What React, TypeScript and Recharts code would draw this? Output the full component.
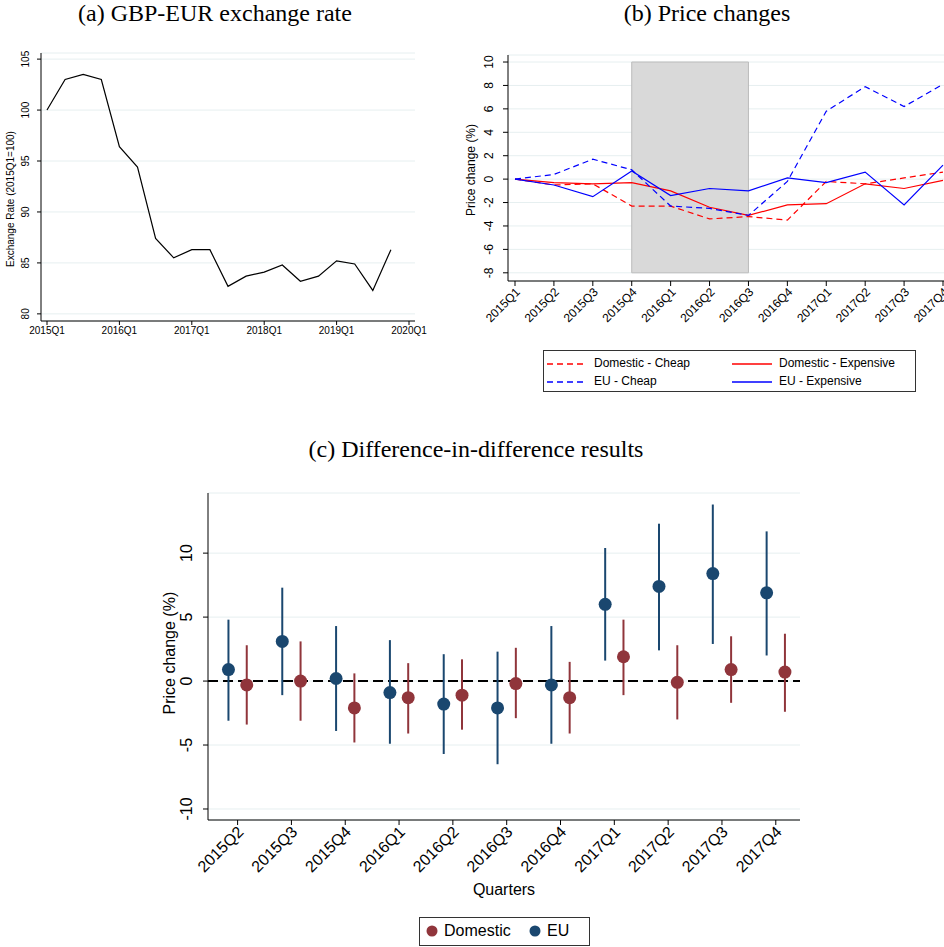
import React from 'react';
import {
  LineChart, Line, XAxis, YAxis, CartesianGrid, ReferenceArea, ReferenceLine,
  ComposedChart, Scatter, ErrorBar,
} from 'recharts';

// (a) exchange rate, quarterly from 2015Q1
const fxValues = [100, 103, 103.5, 103, 96.4, 94.4, 87.4, 85.5, 86.3, 86.3, 82.7, 83.7, 84.1, 84.8, 83.2, 83.7, 85.2, 84.9, 82.3, 86.3];
const fxYearTicks = ['2015Q1', '2016Q1', '2017Q1', '2018Q1', '2019Q1', '2020Q1'];

// (b) price changes
const quarters = ['2015Q1', '2015Q2', '2015Q3', '2015Q4', '2016Q1', '2016Q2', '2016Q3', '2016Q4', '2017Q1', '2017Q2', '2017Q3', '2017Q4'];
const domCheap = [0, -0.5, -0.4, -2.3, -2.3, -3.4, -3.2, -3.5, -0.2, -0.4, 0.1, 0.6];
const domExp = [0, -0.3, -0.4, -0.3, -1.0, -2.4, -3.1, -2.2, -2.1, -0.4, -0.8, -0.1];
const euCheap = [0, 0.4, 1.7, 0.8, -2.3, -2.5, -3.1, -0.2, 5.8, 7.9, 6.2, 8.1];
const euExp = [0, -0.5, -1.5, 0.7, -1.4, -0.8, -1.0, 0.1, -0.3, 0.6, -2.2, 1.2];

// (c) diff-in-diff estimates
const didQuarters = quarters.slice(1);
const euEst = [0.9, 3.1, 0.2, -0.9, -1.8, -2.1, -0.3, 6.0, 7.4, 8.4, 6.9];
const euLo = [-3.1, -1.1, -3.9, -4.9, -5.7, -6.5, -4.9, 1.6, 2.4, 2.9, 2.0];
const euHi = [4.8, 7.3, 4.3, 3.2, 2.1, 2.3, 4.3, 10.4, 12.3, 13.8, 11.7];
const domEst = [-0.3, 0.0, -2.1, -1.3, -1.1, -0.2, -1.3, 1.9, -0.1, 0.9, 0.7];
const domLo = [-3.4, -3.1, -4.8, -4.1, -3.8, -2.9, -4.1, -1.1, -3.0, -1.7, -2.4];
const domHi = [2.8, 3.1, 0.6, 1.4, 1.7, 2.6, 1.5, 4.8, 2.8, 3.5, 3.7];

const fxData = fxValues.map((v, i) => ({ q: i, v }));
const priceData = quarters.map((_, i) => ({
  q: i, dc: domCheap[i], de: domExp[i], ec: euCheap[i], ee: euExp[i],
}));
const euData = euEst.map((v, i) => ({ x: i - 0.17, y: v, err: [v - euLo[i], euHi[i] - v] }));
const domData = domEst.map((v, i) => ({ x: i + 0.17, y: v, err: [v - domLo[i], domHi[i] - v] }));

const SANS = 'Liberation Sans, Arial, sans-serif';
const SERIF = 'Liberation Serif, DejaVu Serif, serif';
const GRID = '#e6eff0';
const RED = '#90353b';
const BLUE = '#1a476f';

const YTick = (fs: number, off: number) => (p: any) => (
  <text transform={`translate(${p.x - off},${p.y}) rotate(-90)`} textAnchor="middle"
    fontSize={fs} fontFamily={SANS} fill="#000">{p.payload.value}</text>
);
const XRotTick = (fs: number, labels: string[]) => (p: any) => (
  <text transform={`translate(${p.x + 3},${p.y + 2}) rotate(-45)`} textAnchor="end"
    dominantBaseline="central" fontSize={fs} fontFamily={SANS} fill="#000">
    {labels[Math.round(p.payload.value)]}
  </text>
);
const Dot = (color: string) => (p: any) => <circle cx={p.cx} cy={p.cy} r={6.5} fill={color} />;

const title = (text: string, left: number, top: number, width: number) => (
  <div style={{ position: 'absolute', left, top, width, textAlign: 'center', fontFamily: SERIF, fontSize: 24 }}>{text}</div>
);

const LegLine = ({ color, dash }: { color: string; dash?: boolean }) => (
  <svg width={40} height={6} style={{ verticalAlign: 'middle', marginRight: 7 }}>
    <line x1={0} y1={3} x2={40} y2={3} stroke={color} strokeWidth={1.3} strokeDasharray={dash ? '6 4' : undefined} />
  </svg>
);

export default function App() {
  return (
    <div style={{ position: 'absolute', left: 0, top: 0, width: 944, height: 947, background: '#fff', overflow: 'hidden' }}>
      {title('(a) GBP-EUR exchange rate', 0, 0, 430)}
      {title('(b) Price changes', 470, 0, 474)}
      {title('(c) Difference-in-difference results', 150, 436, 652)}

      {/* panel a */}
      <div style={{ position: 'absolute', left: 0, top: 40 }}>
        <LineChart width={440} height={300} data={fxData} margin={{ top: 13, right: 25, bottom: 0, left: 0 }}>
          <CartesianGrid horizontal vertical={false} stroke={GRID} />
          <XAxis dataKey="q" type="number" domain={[0, 20]} ticks={[0, 4, 8, 12, 16, 20]} height={19}
            padding={{ left: 6, right: 6 }} tickSize={4} stroke="#000" interval={0}
            tick={{ fontSize: 10, fontFamily: SANS, fill: '#000' }} tickFormatter={(v) => fxYearTicks[v / 4]} />
          <YAxis type="number" domain={[79.3, 105.6]} ticks={[80, 85, 90, 95, 100, 105]} width={41}
            tickSize={4} stroke="#000" tick={YTick(10, 6)}
            label={{ value: 'Exchange Rate (2015Q1=100)', angle: -90, position: 'insideLeft', dx: 5, dy: 80, style: { fontSize: 10, fontFamily: SANS, fill: '#000' } }} />
          <Line dataKey="v" stroke="#000" strokeWidth={1.2} dot={false} isAnimationActive={false} />
        </LineChart>
      </div>

      {/* panel b */}
      <div style={{ position: 'absolute', left: 460, top: 40 }}>
        <LineChart width={484} height={300} data={priceData} margin={{ top: 15, right: 0, bottom: 0, left: 0 }}>
          <CartesianGrid horizontal vertical={false} stroke={GRID} />
          <XAxis dataKey="q" type="number" domain={[0, 11]} ticks={quarters.map((_, i) => i)} height={59}
            padding={{ left: 7, right: 1 }} tickSize={5} stroke="#000" interval={0} tick={XRotTick(12, quarters)} />
          <YAxis type="number" domain={[-8.7, 10.6]} ticks={[-8, -6, -4, -2, 0, 2, 4, 6, 8, 10]} width={48}
            tickSize={5} stroke="#000" tick={YTick(12, 8)}
            label={{ value: 'Price change (%)', angle: -90, position: 'insideLeft', dx: 6, dy: 48, style: { fontSize: 12, fontFamily: SANS, fill: '#000' } }} />
          <ReferenceArea x1={3} x2={6} y1={-8} y2={10} fill="#d9d9d9" fillOpacity={1} stroke="#bcbcbc" />
          <Line dataKey="dc" stroke="#ff0000" strokeDasharray="6 4" strokeWidth={1.2} dot={false} isAnimationActive={false} />
          <Line dataKey="de" stroke="#ff0000" strokeWidth={1.2} dot={false} isAnimationActive={false} />
          <Line dataKey="ec" stroke="#0000ff" strokeDasharray="6 4" strokeWidth={1.2} dot={false} isAnimationActive={false} />
          <Line dataKey="ee" stroke="#0000ff" strokeWidth={1.2} dot={false} isAnimationActive={false} />
        </LineChart>
      </div>
      <div style={{ position: 'absolute', left: 543, top: 350, width: 373, height: 42, border: '1px solid #333', fontFamily: SANS, fontSize: 12, lineHeight: '18px', boxSizing: 'border-box' }}>
        <div style={{ position: 'absolute', left: 3, top: 3 }}><LegLine color="#ff0000" dash />Domestic - Cheap</div>
        <div style={{ position: 'absolute', left: 188, top: 3 }}><LegLine color="#ff0000" />Domestic - Expensive</div>
        <div style={{ position: 'absolute', left: 3, top: 21 }}><LegLine color="#0000ff" dash />EU - Cheap</div>
        <div style={{ position: 'absolute', left: 188, top: 21 }}><LegLine color="#0000ff" />EU - Expensive</div>
      </div>

      {/* panel c */}
      <div style={{ position: 'absolute', left: 150, top: 470 }}>
        <ComposedChart width={650} height={432} margin={{ top: 23, right: 0, bottom: 0, left: 0 }}>
          <CartesianGrid horizontal vertical={false} stroke={GRID} />
          <XAxis dataKey="x" type="number" domain={[-0.55, 10.45]} ticks={didQuarters.map((_, i) => i)} height={82}
            tickSize={5} stroke="#000" interval={0} tick={XRotTick(16, didQuarters)} allowDataOverflow
            label={{ value: 'Quarters', position: 'insideBottom', dy: -2, style: { fontSize: 16, fontFamily: SANS, fill: '#000' } }} />
          <YAxis dataKey="y" type="number" domain={[-10.86, 14.7]} ticks={[-10, -5, 0, 5, 10]} width={58}
            tickSize={5} stroke="#000" tick={YTick(16, 9)} allowDataOverflow
            label={{ value: 'Price change (%)', angle: -90, position: 'insideLeft', dx: 14, dy: 58, style: { fontSize: 16, fontFamily: SANS, fill: '#000' } }} />
          <ReferenceLine y={0} stroke="#000" strokeWidth={2} strokeDasharray="10 5" />
          <Scatter data={euData} fill={BLUE} shape={Dot(BLUE)} isAnimationActive={false}>
            <ErrorBar dataKey="err" direction="y" width={0} stroke={BLUE} strokeWidth={2} />
          </Scatter>
          <Scatter data={domData} fill={RED} shape={Dot(RED)} isAnimationActive={false}>
            <ErrorBar dataKey="err" direction="y" width={0} stroke={RED} strokeWidth={2} />
          </Scatter>
        </ComposedChart>
      </div>
      <div style={{ position: 'absolute', left: 419, top: 917, width: 171, height: 29, border: '1px solid #333', fontFamily: SANS, fontSize: 16, boxSizing: 'border-box' }}>
        <svg width={14} height={14} style={{ position: 'absolute', left: 5, top: 6 }}><circle cx={7} cy={7} r={5.5} fill={RED} /></svg>
        <span style={{ position: 'absolute', left: 24, top: 4 }}>Domestic</span>
        <svg width={14} height={14} style={{ position: 'absolute', left: 108, top: 6 }}><circle cx={7} cy={7} r={5.5} fill={BLUE} /></svg>
        <span style={{ position: 'absolute', left: 127, top: 4 }}>EU</span>
      </div>
    </div>
  );
}
